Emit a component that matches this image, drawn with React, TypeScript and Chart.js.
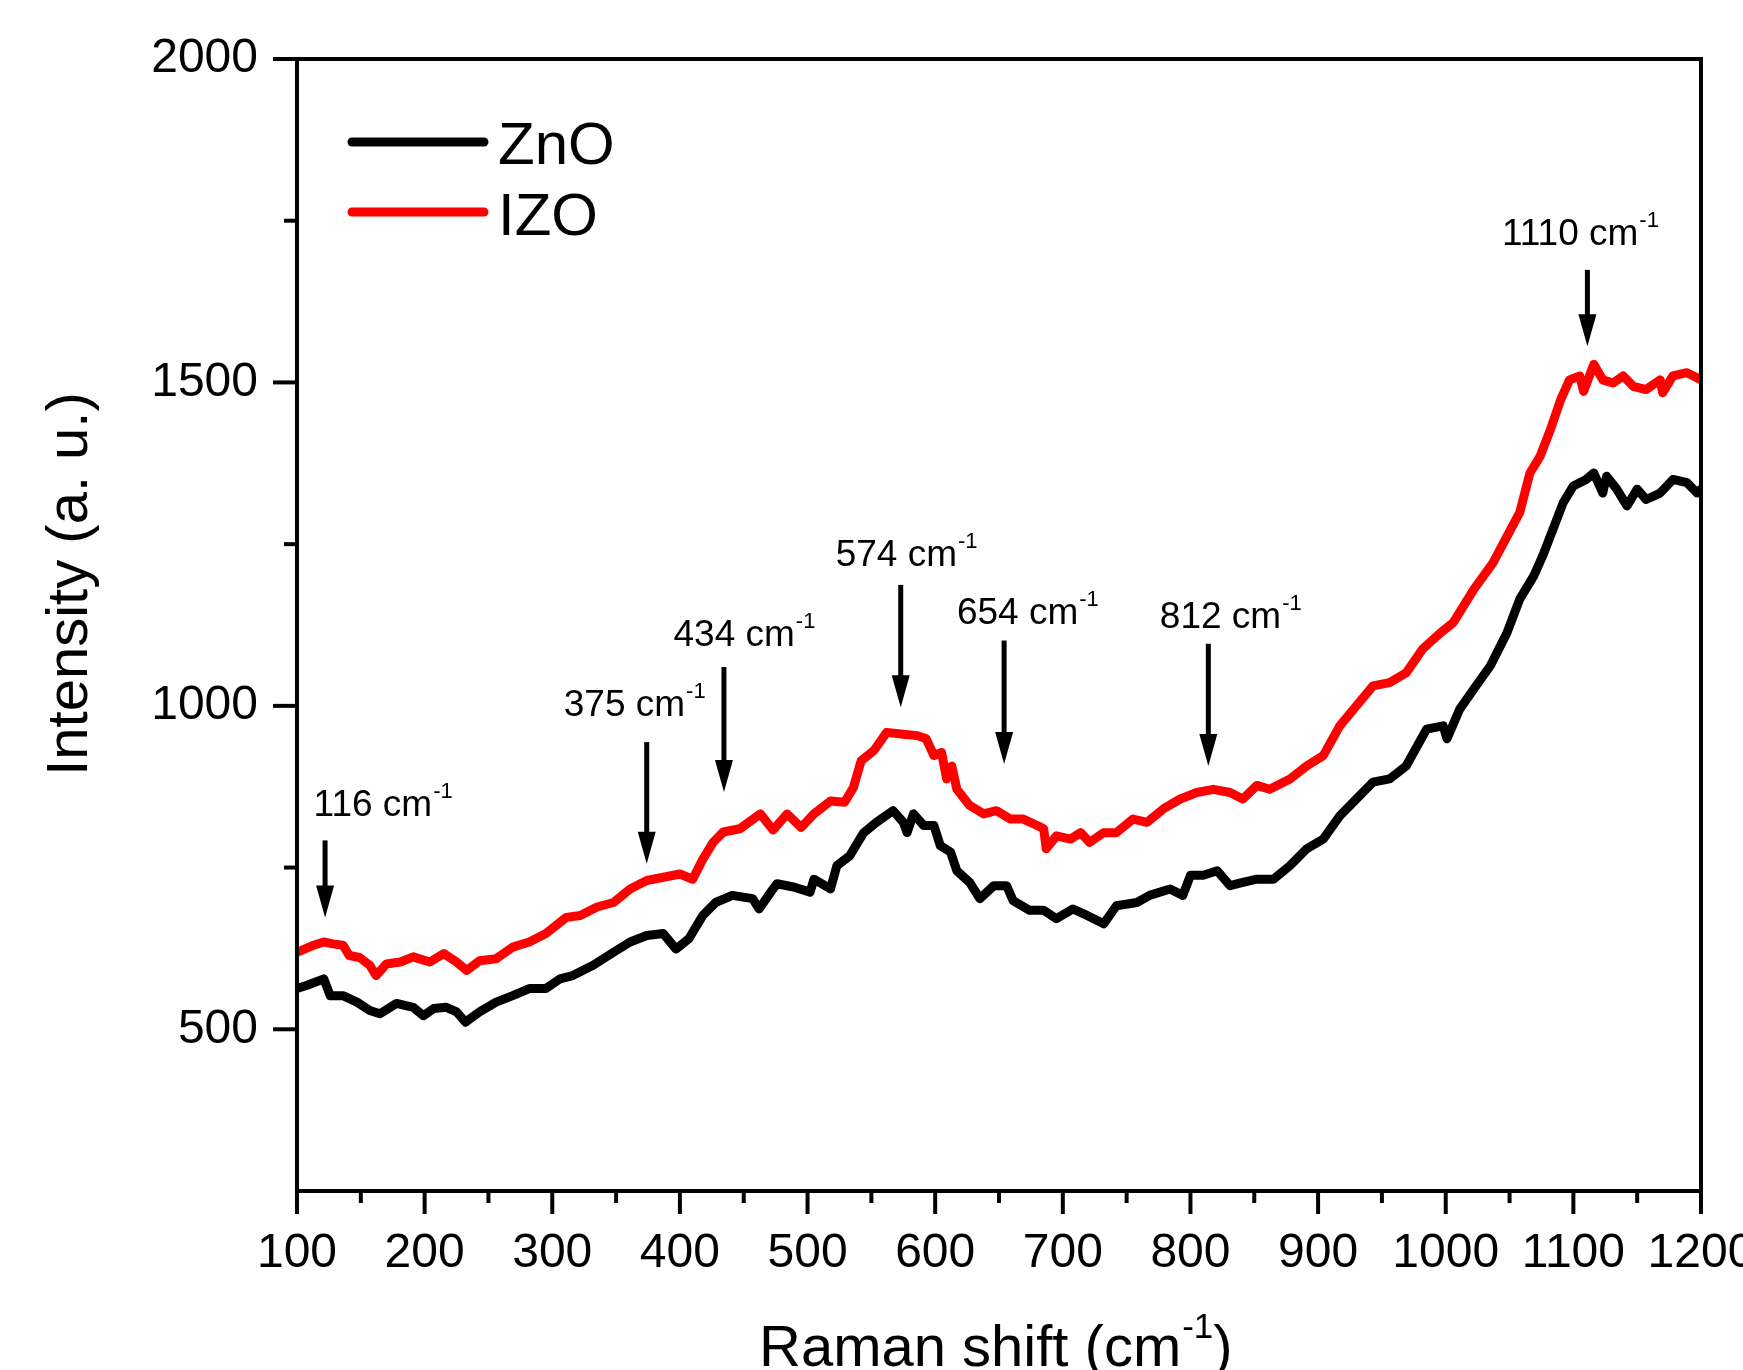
import React, { useEffect, useRef } from 'react';
import { Chart, registerables } from 'chart.js';

Chart.register(...registerables);

// ---------------- data ----------------
const seriesNames = ['ZnO', 'IZO'];
const seriesColors = ['#000000', '#ff0000'];

const znoShift = [
  100, 108, 121, 126, 136, 147, 157, 165, 178, 191, 199, 207, 217, 225, 232, 243, 256, 269, 282, 295,
  306, 316, 332, 348, 361, 374, 387, 397, 407, 418, 428, 441, 457, 462, 473, 476, 489, 502, 505, 518,
  523, 533, 544, 554, 567, 575, 578, 583, 591, 599, 604, 612, 617, 627, 635, 646, 656, 661, 674, 685,
  695, 708, 719, 732, 742, 758, 768, 784, 794, 800, 810, 821, 831, 841, 852, 865, 878, 891, 904, 917,
  930, 943, 956, 969, 985, 998, 1001, 1011, 1022, 1035, 1048, 1058, 1069, 1076, 1084, 1092, 1100, 1110,
  1116, 1123, 1126, 1134, 1142, 1150, 1157, 1168, 1178, 1189, 1197, 1200,
];
const znoIntensity = [
  563, 568, 578, 552, 552, 542, 529, 524, 540, 534, 521, 532, 534, 527, 511, 527, 542, 552, 563, 563,
  578, 583, 599, 619, 635, 645, 648, 624, 640, 676, 696, 707, 702, 686, 717, 725, 720, 712, 732, 717,
  753, 768, 804, 820, 838, 820, 804, 833, 815, 815, 784, 774, 745, 727, 702, 722, 722, 699, 684, 684,
  671, 686, 676, 663, 691, 696, 707, 717, 707, 738, 738, 745, 722, 727, 732, 732, 753, 779, 794, 830,
  856, 882, 887, 907, 964, 969, 949, 995, 1026, 1062, 1113, 1165, 1201, 1232, 1273, 1314, 1340, 1350,
  1360, 1329, 1355, 1335, 1309, 1335, 1319, 1329, 1350, 1345, 1329, 1335,
];

const izoShift = [
  100, 113, 121, 128, 136, 141, 149, 157, 162, 170, 181, 191, 204, 215, 225, 233, 243, 256, 269, 282,
  295, 311, 322, 335, 348, 361, 374, 387, 400, 410, 418, 426, 434, 447, 463, 473, 484, 495, 505, 518,
  529, 536, 542, 552, 562, 575, 586, 593, 599, 605, 609, 613, 617, 627, 638, 648, 659, 669, 680, 685,
  687, 695, 706, 714, 721, 732, 742, 755, 766, 779, 792, 805, 818, 831, 841, 852, 862, 878, 891, 904,
  917, 930, 943, 956, 969, 982, 996, 1006, 1022, 1037, 1048, 1058, 1066, 1074, 1082, 1090, 1097, 1105,
  1108, 1116, 1123, 1131, 1139, 1147, 1157, 1168, 1170, 1178, 1189, 1200,
];
const izoIntensity = [
  619, 630, 635, 632, 630, 614, 611, 599, 583, 601, 604, 612, 604, 617, 604, 591, 606, 609, 627, 635,
  648, 673, 676, 689, 696, 717, 730, 735, 740, 732, 763, 789, 805, 810, 833, 808, 833, 812, 833, 853,
  851, 874, 915, 931, 959, 956, 954, 949, 923, 928, 887, 907, 871, 846, 833, 838, 825, 825, 815, 810,
  779, 799, 794, 804, 789, 804, 804, 825, 820, 841, 856, 866, 871, 866, 856, 877, 871, 887, 907, 923,
  969, 1000, 1031, 1036, 1051, 1088, 1113, 1129, 1180, 1221, 1262, 1299, 1360, 1386, 1427, 1473, 1504, 1510,
  1486, 1528, 1504, 1499, 1510, 1494, 1489, 1504, 1484, 1510, 1515, 1504,
];

// axes
const xMin = 100;
const xMax = 1200;
const xMajorStep = 100;
const xMinorStep = 50;
const yMin = 250;
const yMax = 2000;
const yMajorStep = 500;
const yMinorStep = 250;
const xTitleMain = 'Raman shift (cm';
const xTitleSup = '-1';
const xTitleEnd = ')';
const yTitle = 'Intensity (a. u.)';

// peak annotations (data coordinates)
const peakLabels = ['116', '375', '434', '574', '654', '812', '1110'];
const arrowShift = [122, 374, 434.5, 573, 654, 814, 1111];
const arrowTop = [792, 944, 1060, 1187, 1101, 1096, 1674];
const arrowTip = [673, 756, 867, 998, 910, 907, 1556];
const labelShift = [113, 309, 395, 522, 617, 776, 1044];
const labelBaseline = [830, 984, 1092, 1216, 1127, 1121, 1713];

const FONT = '"Liberation Sans", Arial, Helvetica, sans-serif';

function drawSup(ctx: CanvasRenderingContext2D, x: number, y: number, main: string, size: number, sup: string, supSize: number, rise: number, tail?: string) {
  ctx.font = `${size}px ${FONT}`;
  ctx.textAlign = 'left';
  ctx.textBaseline = 'alphabetic';
  ctx.fillText(main, x, y);
  let cx = x + ctx.measureText(main).width + 1;
  ctx.font = `${supSize}px ${FONT}`;
  ctx.fillText(sup, cx, y - rise);
  cx += ctx.measureText(sup).width;
  if (tail) {
    ctx.font = `${size}px ${FONT}`;
    ctx.fillText(tail, cx, y);
  }
}

const decorPlugin = {
  id: 'decor',
  afterDatasetsDraw(chart: any) {
    const { ctx, chartArea: a, scales } = chart;
    const xs = scales.x;
    const ys = scales.y;
    ctx.save();
    ctx.strokeStyle = '#000';
    ctx.fillStyle = '#000';
    ctx.lineWidth = 4;
    ctx.lineJoin = 'miter';
    ctx.lineCap = 'butt';
    // frame
    ctx.strokeRect(a.left, a.top, a.right - a.left, a.bottom - a.top);
    // x ticks
    for (let v = xMin; v <= xMax; v += xMinorStep) {
      const px = xs.getPixelForValue(v);
      const len = v % xMajorStep === 0 ? 23 : 12;
      ctx.beginPath();
      ctx.moveTo(px, a.bottom);
      ctx.lineTo(px, a.bottom + len);
      ctx.stroke();
    }
    // y ticks
    for (let v = yMin + yMinorStep; v <= yMax; v += yMinorStep) {
      const py = ys.getPixelForValue(v);
      const len = v % yMajorStep === 0 ? 24 : 13;
      ctx.beginPath();
      ctx.moveTo(a.left, py);
      ctx.lineTo(a.left - len, py);
      ctx.stroke();
    }
    // legend
    const legY = [142, 212];
    const legBase = [164, 235];
    ctx.lineCap = 'round';
    ctx.lineWidth = 9;
    seriesNames.forEach((n, i) => {
      ctx.strokeStyle = seriesColors[i];
      ctx.beginPath();
      ctx.moveTo(352, legY[i]);
      ctx.lineTo(484, legY[i]);
      ctx.stroke();
      ctx.fillStyle = '#000';
      ctx.font = `60px ${FONT}`;
      ctx.textAlign = 'left';
      ctx.textBaseline = 'alphabetic';
      ctx.fillText(n, 498, legBase[i]);
    });
    // arrows + labels
    ctx.strokeStyle = '#000';
    ctx.fillStyle = '#000';
    ctx.lineCap = 'butt';
    peakLabels.forEach((lab, i) => {
      const px = xs.getPixelForValue(arrowShift[i]);
      const top = ys.getPixelForValue(arrowTop[i]);
      const tip = ys.getPixelForValue(arrowTip[i]);
      const headLen = 32;
      const headW = 9;
      ctx.lineWidth = 5;
      ctx.beginPath();
      ctx.moveTo(px, top);
      ctx.lineTo(px, tip - headLen + 2);
      ctx.stroke();
      ctx.beginPath();
      ctx.moveTo(px - headW, tip - headLen);
      ctx.lineTo(px + headW, tip - headLen);
      ctx.lineTo(px, tip);
      ctx.closePath();
      ctx.fill();
      const lx = xs.getPixelForValue(labelShift[i]);
      const ly = ys.getPixelForValue(labelBaseline[i]);
      drawSup(ctx, lx, ly, `${lab} cm`, 37, '-1', 22, 18);
    });
    // axis titles
    drawSup(ctx, 759, 1366, xTitleMain, 58, xTitleSup, 35, 28, xTitleEnd);
    ctx.save();
    ctx.translate(87, 584);
    ctx.rotate(-Math.PI / 2);
    ctx.font = `58px ${FONT}`;
    ctx.textAlign = 'center';
    ctx.textBaseline = 'alphabetic';
    ctx.fillText(yTitle, 0, 0);
    ctx.restore();
    ctx.restore();
  },
};

const zeroPad = (s: any) => {
  s.paddingLeft = 0;
  s.paddingRight = 0;
  s.paddingTop = 0;
  s.paddingBottom = 0;
};

export default function App() {
  const ref = useRef<HTMLCanvasElement | null>(null);
  useEffect(() => {
    if (!ref.current) return;
    const mk = (xs: number[], ys: number[]) => xs.map((x, i) => ({ x, y: ys[i] }));
    const ds = (i: number, xs: number[], ys: number[]) => ({
      label: seriesNames[i],
      data: mk(xs, ys),
      borderColor: seriesColors[i],
      borderWidth: 9,
      pointRadius: 0,
      tension: 0,
      borderJoinStyle: 'round',
      borderCapStyle: 'round',
    });
    const chart = new Chart(ref.current, {
      type: 'line',
      data: { datasets: [ds(0, znoShift, znoIntensity), ds(1, izoShift, izoIntensity)] },
      options: {
        animation: false,
        responsive: false,
        layout: { padding: { left: 0, top: 59, right: 42, bottom: 0 } },
        plugins: { legend: { display: false }, tooltip: { enabled: false }, title: { display: false } },
        scales: {
          x: {
            type: 'linear',
            min: xMin,
            max: xMax,
            grid: { display: false, drawTicks: false },
            border: { display: false },
            ticks: {
              stepSize: xMajorStep,
              color: '#000',
              padding: 34,
              maxRotation: 0,
              autoSkip: false,
              font: { family: FONT, size: 48 },
              callback: (v: any) => String(v),
            },
            afterFit: (s: any) => { s.height = 179; zeroPad(s); },
          },
          y: {
            type: 'linear',
            min: yMin,
            max: yMax,
            grid: { display: false, drawTicks: false },
            border: { display: false },
            ticks: {
              stepSize: yMinorStep,
              color: '#000',
              padding: 39,
              autoSkip: false,
              font: { family: FONT, size: 48 },
              callback: (v: any) => (Number(v) % yMajorStep === 0 ? String(v) : ''),
            },
            afterFit: (s: any) => { s.width = 297; zeroPad(s); },
          },
        },
      },
      plugins: [decorPlugin],
    } as any);
    return () => chart.destroy();
  }, []);
  return (
    <div style={{ position: 'absolute', left: 0, top: 0, width: 1743, height: 1370, background: '#fff' }}>
      <canvas ref={ref} width={1743} height={1370} />
    </div>
  );
}
